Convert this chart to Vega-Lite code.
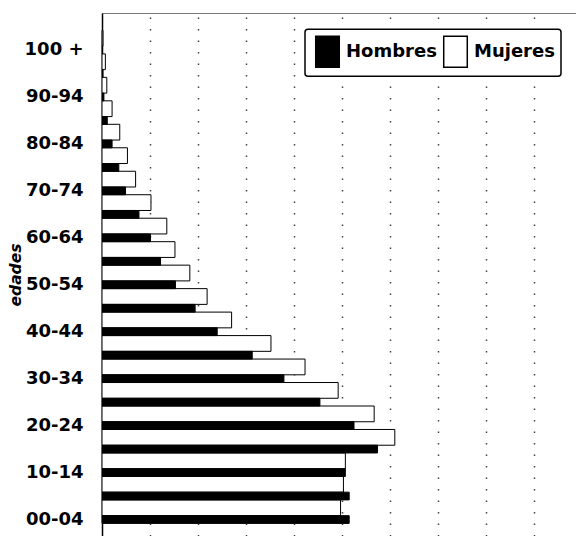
{
  "$schema": "https://vega.github.io/schema/vega-lite/v6.json",
  "width": 474,
  "height": 523,
  "autosize": {"type": "none"},
  "padding": {"left": 102, "top": 13, "right": 0, "bottom": 0},
  "background": "white",
  "config": {
    "view": {"stroke": "#777777", "strokeWidth": 1},
    "font": "DejaVu Sans"
  },
  "data": {
    "values": [
      {"edad": "00-04", "sexo": "Hombres", "pct": 5.15}, {"edad": "00-04", "sexo": "Mujeres", "pct": 4.97},
      {"edad": "05-09", "sexo": "Hombres", "pct": 5.15}, {"edad": "05-09", "sexo": "Mujeres", "pct": 5.03},
      {"edad": "10-14", "sexo": "Hombres", "pct": 5.07}, {"edad": "10-14", "sexo": "Mujeres", "pct": 5.07},
      {"edad": "15-19", "sexo": "Hombres", "pct": 5.74}, {"edad": "15-19", "sexo": "Mujeres", "pct": 6.10},
      {"edad": "20-24", "sexo": "Hombres", "pct": 5.25}, {"edad": "20-24", "sexo": "Mujeres", "pct": 5.67},
      {"edad": "25-29", "sexo": "Hombres", "pct": 4.54}, {"edad": "25-29", "sexo": "Mujeres", "pct": 4.92},
      {"edad": "30-34", "sexo": "Hombres", "pct": 3.79}, {"edad": "30-34", "sexo": "Mujeres", "pct": 4.23},
      {"edad": "35-39", "sexo": "Hombres", "pct": 3.13}, {"edad": "35-39", "sexo": "Mujeres", "pct": 3.52},
      {"edad": "40-44", "sexo": "Hombres", "pct": 2.40}, {"edad": "40-44", "sexo": "Mujeres", "pct": 2.70},
      {"edad": "45-49", "sexo": "Hombres", "pct": 1.94}, {"edad": "45-49", "sexo": "Mujeres", "pct": 2.19},
      {"edad": "50-54", "sexo": "Hombres", "pct": 1.53}, {"edad": "50-54", "sexo": "Mujeres", "pct": 1.83},
      {"edad": "55-59", "sexo": "Hombres", "pct": 1.22}, {"edad": "55-59", "sexo": "Mujeres", "pct": 1.52},
      {"edad": "60-64", "sexo": "Hombres", "pct": 1.01}, {"edad": "60-64", "sexo": "Mujeres", "pct": 1.35},
      {"edad": "65-69", "sexo": "Hombres", "pct": 0.77}, {"edad": "65-69", "sexo": "Mujeres", "pct": 1.02},
      {"edad": "70-74", "sexo": "Hombres", "pct": 0.49}, {"edad": "70-74", "sexo": "Mujeres", "pct": 0.70},
      {"edad": "75-79", "sexo": "Hombres", "pct": 0.35}, {"edad": "75-79", "sexo": "Mujeres", "pct": 0.53},
      {"edad": "80-84", "sexo": "Hombres", "pct": 0.21}, {"edad": "80-84", "sexo": "Mujeres", "pct": 0.37},
      {"edad": "85-89", "sexo": "Hombres", "pct": 0.11}, {"edad": "85-89", "sexo": "Mujeres", "pct": 0.21},
      {"edad": "90-94", "sexo": "Hombres", "pct": 0.04}, {"edad": "90-94", "sexo": "Mujeres", "pct": 0.10},
      {"edad": "95-99", "sexo": "Hombres", "pct": 0.02}, {"edad": "95-99", "sexo": "Mujeres", "pct": 0.07},
      {"edad": "100 +", "sexo": "Hombres", "pct": 0.01}, {"edad": "100 +", "sexo": "Mujeres", "pct": 0.02}
    ]
  },
  "encoding": {
    "y": {
      "field": "edad",
      "type": "nominal",
      "sort": ["100 +", "95-99", "90-94", "85-89", "80-84", "75-79", "70-74", "65-69", "60-64", "55-59", "50-54", "45-49", "40-44", "35-39", "30-34", "25-29", "20-24", "15-19", "10-14", "05-09", "00-04"],
      "scale": {"paddingInner": 0, "paddingOuter": 0.6396, "align": 0.842, "round": false},
      "axis": {
        "title": "edades",
        "values": ["100 +", "90-94", "80-84", "70-74", "60-64", "50-54", "40-44", "30-34", "20-24", "10-14", "00-04"],
        "ticks": false,
        "grid": false,
        "labelPadding": 19,
        "labelFont": "DejaVu Sans",
        "labelFontSize": 18,
        "labelFontWeight": "bold",
        "labelColor": "black",
        "domainColor": "black",
        "domainWidth": 1.5,
        "titleFont": "DejaVu Sans",
        "titleFontSize": 15.5,
        "titleFontStyle": "italic",
        "titleFontWeight": "bold",
        "titleColor": "black",
        "titlePadding": 1
      }
    },
    "x": {
      "field": "pct",
      "type": "quantitative",
      "scale": {"domain": [0, 9.875], "nice": false, "zero": true},
      "axis": {
        "values": [1, 2, 3, 4, 5, 6, 7, 8, 9],
        "labels": false,
        "ticks": false,
        "domain": false,
        "title": null,
        "grid": true,
        "gridColor": "#444444",
        "gridWidth": 1.5,
        "gridDash": [1.5, 10]
      }
    },
    "color": {
      "field": "sexo",
      "type": "nominal",
      "scale": {"domain": ["Hombres", "Mujeres"], "range": ["#000000", "#ffffff"]},
      "legend": {
        "title": null,
        "orient": "none",
        "legendX": 203,
        "legendY": 16.3,
        "direction": "horizontal",
        "columns": 2,
        "gridAlign": "all",
        "symbolType": "M-0.76,-1H0.76V1H-0.76Z",
        "symbolSize": 961,
        "symbolStrokeColor": "black",
        "symbolStrokeWidth": 1.5,
        "labelFont": "DejaVu Sans",
        "labelFontSize": 18,
        "labelFontWeight": "bold",
        "labelColor": "black",
        "labelOffset": 2,
        "columnPadding": 2,
        "padding": 6,
        "strokeColor": "black",
        "cornerRadius": 3,
        "fillColor": "white",
        "encode": {"legend": {"update": {"strokeWidth": {"value": 1.5}}}}
      }
    }
  },
  "layer": [
    {
      "transform": [{"filter": "datum.sexo == 'Mujeres'"}],
      "mark": {"type": "bar", "height": {"band": 0.671}, "yOffset": -11.74, "stroke": "black", "strokeWidth": 1}
    },
    {
      "transform": [{"filter": "datum.sexo == 'Hombres'"}],
      "mark": {"type": "bar", "height": {"band": 0.329}, "stroke": "black", "strokeWidth": 1}
    }
  ]
}
